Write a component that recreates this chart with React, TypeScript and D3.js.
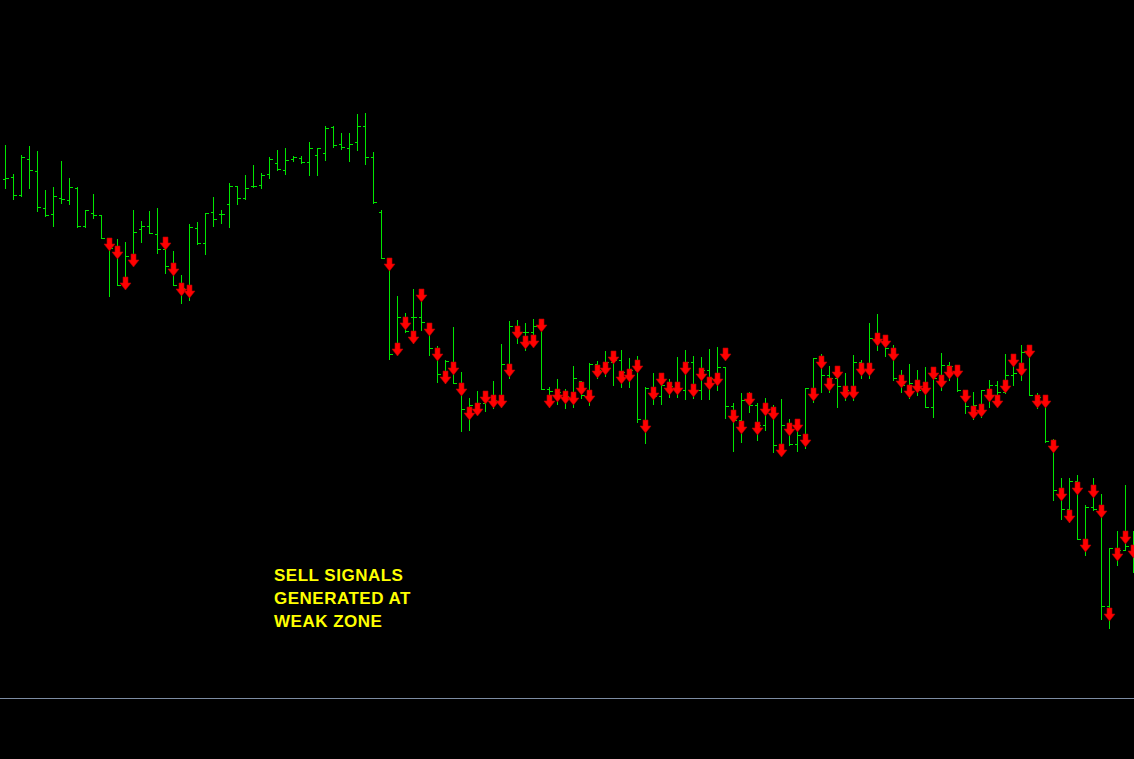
import { useEffect, useRef } from 'react';
import * as d3 from 'd3';

// OHLC bars, one per candle (oldest first)
const opens = [
  1.2821, 1.2823, 1.2805, 1.2841, 1.2829, 1.2792, 1.2786, 1.2802, 1.2800, 1.2812,
  1.2774, 1.2787, 1.2785, 1.2762, 1.2751, 1.2716, 1.2742, 1.2771, 1.2774, 1.2766,
  1.2751, 1.2734, 1.2715, 1.2714, 1.2772, 1.2757, 1.2788, 1.2786, 1.2796, 1.2814,
  1.2802, 1.2814, 1.2815, 1.2826, 1.2837, 1.2830, 1.2841, 1.2842, 1.2838, 1.2845,
  1.2847, 1.2873, 1.2856, 1.2852, 1.2858, 1.2874, 1.2843, 1.2788, 1.2741, 1.2655,
  1.2682, 1.2683, 1.2683, 1.2677, 1.2652, 1.2626, 1.2635, 1.2617, 1.2591, 1.2595,
  1.2597, 1.2602, 1.2600, 1.2636, 1.2674, 1.2668, 1.2668, 1.2675, 1.2611, 1.2609,
  1.2608, 1.2604, 1.2619, 1.2605, 1.2636, 1.2630, 1.2638, 1.2640, 1.2628, 1.2630,
  1.2580, 1.2612, 1.2604, 1.2615, 1.2614, 1.2610, 1.2638, 1.2610, 1.2630, 1.2622,
  1.2633, 1.2594, 1.2580, 1.2600, 1.2595, 1.2575, 1.2590, 1.2555, 1.2575, 1.2556,
  1.2565, 1.2612, 1.2642, 1.2625, 1.2622, 1.2614, 1.2610, 1.2638, 1.2630, 1.2662,
  1.2660, 1.2652, 1.2622, 1.2615, 1.2617, 1.2610, 1.2593, 1.2622, 1.2635, 1.2634,
  1.2610, 1.2594, 1.2595, 1.2610, 1.2615, 1.2608, 1.2625, 1.2627, 1.2648, 1.2605,
  1.2603, 1.2559, 1.2510, 1.2491, 1.2519, 1.2461, 1.2493, 1.2491, 1.2394, 1.2452,
  1.2450, 1.2454,
];
const highs = [
  1.2855, 1.2826, 1.2845, 1.2854, 1.2849, 1.2810, 1.2813, 1.2839, 1.2822, 1.2813,
  1.2790, 1.2806, 1.2785, 1.2762, 1.2761, 1.2758, 1.2790, 1.2779, 1.2789, 1.2792,
  1.2753, 1.2749, 1.2725, 1.2776, 1.2778, 1.2787, 1.2803, 1.2790, 1.2817, 1.2814,
  1.2825, 1.2835, 1.2827, 1.2843, 1.2850, 1.2852, 1.2844, 1.2844, 1.2858, 1.2852,
  1.2874, 1.2874, 1.2867, 1.2867, 1.2886, 1.2887, 1.2848, 1.2790, 1.2742, 1.2704,
  1.2687, 1.2711, 1.2710, 1.2677, 1.2654, 1.2640, 1.2673, 1.2628, 1.2602, 1.2609,
  1.2604, 1.2619, 1.2656, 1.2679, 1.2680, 1.2677, 1.2681, 1.2680, 1.2613, 1.2621,
  1.2611, 1.2634, 1.2619, 1.2637, 1.2639, 1.2649, 1.2643, 1.2650, 1.2642, 1.2644,
  1.2613, 1.2627, 1.2617, 1.2621, 1.2643, 1.2650, 1.2644, 1.2643, 1.2651, 1.2653,
  1.2633, 1.2597, 1.2607, 1.2608, 1.2597, 1.2602, 1.2595, 1.2601, 1.2581, 1.2581,
  1.2612, 1.2642, 1.2646, 1.2634, 1.2634, 1.2627, 1.2645, 1.2640, 1.2677, 1.2686,
  1.2665, 1.2655, 1.2630, 1.2636, 1.2630, 1.2633, 1.2630, 1.2647, 1.2638, 1.2635,
  1.2610, 1.2608, 1.2610, 1.2620, 1.2619, 1.2646, 1.2640, 1.2655, 1.2655, 1.2607,
  1.2605, 1.2561, 1.2522, 1.2522, 1.2525, 1.2495, 1.2522, 1.2506, 1.2452, 1.2469,
  1.2515, 1.2469,
];
const lows = [
  1.2812, 1.2801, 1.2804, 1.2812, 1.2789, 1.2784, 1.2774, 1.2797, 1.2796, 1.2773,
  1.2773, 1.2782, 1.2762, 1.2704, 1.2715, 1.2713, 1.2737, 1.2758, 1.2767, 1.2747,
  1.2727, 1.2715, 1.2697, 1.2700, 1.2756, 1.2746, 1.2774, 1.2777, 1.2773, 1.2796,
  1.2801, 1.2813, 1.2812, 1.2822, 1.2830, 1.2826, 1.2839, 1.2837, 1.2825, 1.2825,
  1.2840, 1.2853, 1.2851, 1.2839, 1.2850, 1.2836, 1.2797, 1.2742, 1.2641, 1.2647,
  1.2668, 1.2657, 1.2670, 1.2645, 1.2618, 1.2617, 1.2617, 1.2569, 1.2570, 1.2589,
  1.2589, 1.2592, 1.2593, 1.2622, 1.2657, 1.2650, 1.2655, 1.2611, 1.2593, 1.2596,
  1.2592, 1.2593, 1.2602, 1.2595, 1.2622, 1.2624, 1.2615, 1.2613, 1.2613, 1.2578,
  1.2557, 1.2596, 1.2596, 1.2603, 1.2603, 1.2601, 1.2602, 1.2601, 1.2601, 1.2610,
  1.2582, 1.2549, 1.2558, 1.2588, 1.2560, 1.2570, 1.2548, 1.2550, 1.2555, 1.2549,
  1.2552, 1.2598, 1.2608, 1.2608, 1.2593, 1.2600, 1.2600, 1.2622, 1.2622, 1.2650,
  1.2644, 1.2620, 1.2608, 1.2602, 1.2605, 1.2593, 1.2583, 1.2610, 1.2620, 1.2609,
  1.2587, 1.2581, 1.2583, 1.2593, 1.2602, 1.2607, 1.2615, 1.2620, 1.2605, 1.2592,
  1.2558, 1.2500, 1.2481, 1.2478, 1.2461, 1.2445, 1.2490, 1.2381, 1.2372, 1.2435,
  1.2450, 1.2428,
];
const closes = [
  1.2822, 1.2805, 1.2843, 1.2830, 1.2793, 1.2785, 1.2804, 1.2801, 1.2813, 1.2774,
  1.2790, 1.2785, 1.2762, 1.2752, 1.2715, 1.2744, 1.2768, 1.2774, 1.2767, 1.2751,
  1.2734, 1.2715, 1.2712, 1.2773, 1.2757, 1.2787, 1.2781, 1.2786, 1.2814, 1.2802,
  1.2812, 1.2814, 1.2825, 1.2841, 1.2831, 1.2840, 1.2843, 1.2838, 1.2852, 1.2852,
  1.2872, 1.2855, 1.2853, 1.2856, 1.2874, 1.2843, 1.2798, 1.2742, 1.2646, 1.2683,
  1.2669, 1.2683, 1.2678, 1.2652, 1.2626, 1.2639, 1.2617, 1.2591, 1.2595, 1.2597,
  1.2602, 1.2600, 1.2636, 1.2674, 1.2668, 1.2668, 1.2674, 1.2611, 1.2609, 1.2608,
  1.2604, 1.2622, 1.2605, 1.2636, 1.2630, 1.2638, 1.2640, 1.2628, 1.2630, 1.2581,
  1.2612, 1.2604, 1.2615, 1.2614, 1.2610, 1.2638, 1.2610, 1.2630, 1.2622, 1.2633,
  1.2594, 1.2580, 1.2600, 1.2595, 1.2575, 1.2590, 1.2555, 1.2575, 1.2556, 1.2565,
  1.2612, 1.2642, 1.2625, 1.2622, 1.2614, 1.2610, 1.2638, 1.2630, 1.2662, 1.2660,
  1.2652, 1.2622, 1.2615, 1.2617, 1.2610, 1.2593, 1.2622, 1.2635, 1.2634, 1.2610,
  1.2594, 1.2595, 1.2610, 1.2615, 1.2608, 1.2625, 1.2627, 1.2648, 1.2605, 1.2603,
  1.2559, 1.2510, 1.2491, 1.2519, 1.2461, 1.2493, 1.2491, 1.2394, 1.2452, 1.2450,
  1.2454, 1.2455,
];

// sell arrows: bar index + price where the arrow sits
const signalBars = [
  13, 14, 15, 16, 20, 21, 22, 23,
  48, 49, 50, 51, 52, 53, 54, 55, 56, 57, 58, 59, 60, 61, 62, 63, 64, 65, 66, 67, 68, 69,
  70, 71, 72, 73, 74, 75, 76, 77, 78, 79, 80, 81, 82, 83, 84, 85, 86, 87, 88, 89,
  90, 91, 92, 93, 94, 95, 96, 97, 98, 99, 100, 101, 102, 103, 104, 105, 106, 107, 108, 109,
  110, 111, 112, 113, 114, 115, 116, 117, 118, 119, 120, 121, 122, 123, 124, 125, 126, 127, 128, 129,
  130, 131, 132, 133, 134, 135, 136, 137, 138, 139, 140, 141,
];
const signalPrices = [
  1.2762, 1.2754, 1.2723, 1.2746, 1.2763, 1.2737, 1.2717, 1.2715,
  1.2742, 1.2657, 1.2683, 1.2669, 1.2711, 1.2677, 1.2652, 1.2629, 1.2638, 1.2617, 1.2593, 1.2597,
  1.2609, 1.2605, 1.2605, 1.2636, 1.2674, 1.2664, 1.2665, 1.2681, 1.2605, 1.2611,
  1.2609, 1.2608, 1.2618, 1.2610, 1.2635, 1.2638, 1.2649, 1.2629, 1.2631, 1.2640,
  1.2580, 1.2613, 1.2627, 1.2618, 1.2618, 1.2638, 1.2616, 1.2632, 1.2623, 1.2627,
  1.2652, 1.2590, 1.2579, 1.2607, 1.2578, 1.2597, 1.2593, 1.2556, 1.2577, 1.2581,
  1.2566, 1.2612, 1.2644, 1.2622, 1.2634, 1.2614, 1.2614, 1.2637, 1.2637, 1.2667,
  1.2665, 1.2652, 1.2625, 1.2615, 1.2620, 1.2618, 1.2633, 1.2625, 1.2634, 1.2635,
  1.2610, 1.2594, 1.2596, 1.2611, 1.2605, 1.2620, 1.2646, 1.2637, 1.2655, 1.2605,
  1.2605, 1.2560, 1.2512, 1.2490, 1.2518, 1.2461, 1.2515, 1.2495, 1.2392, 1.2452,
  1.2469, 1.2455,
];

const noteLines = ['SELL SIGNALS', 'GENERATED AT', 'WEAK ZONE'];
const levelPrice = 1.2302;

export default function App() {
  const svgRef = useRef<SVGSVGElement>(null);

  useEffect(() => {
    if (!svgRef.current) return;
    const width = 1134;
    const height = 759;

    const svg = d3.select(svgRef.current);
    svg.selectAll('*').remove();
    svg.attr('width', width).attr('height', height);

    svg.append('rect').attr('width', width).attr('height', height).attr('fill', '#000000');

    const x = d3.scaleLinear().domain([0, opens.length - 1]).range([5, 1133]);
    const y = d3.scaleLinear().domain([1.3, 1.2241]).range([0, 759]);
    const px = (i: number) => Math.round(x(i)) + 0.5;
    const py = (v: number) => Math.round(y(v)) + 0.5;

    // level line
    svg.append('line')
      .attr('x1', 0).attr('x2', width)
      .attr('y1', py(levelPrice)).attr('y2', py(levelPrice))
      .attr('stroke', '#7d8ca3')
      .attr('stroke-width', 1);

    // OHLC bars
    const bars = svg.append('g')
      .attr('stroke', '#00e600')
      .attr('stroke-width', 1)
      .attr('shape-rendering', 'crispEdges');

    const idx = d3.range(opens.length);
    bars.selectAll('path.bar')
      .data(idx)
      .enter().append('path')
      .attr('class', 'bar')
      .attr('fill', 'none')
      .attr('d', i => {
        const cx = px(i);
        const o = py(opens[i]);
        const c = py(closes[i]);
        return `M${cx},${py(highs[i]) - 0.5}V${py(lows[i]) + 0.5}` +
          `M${cx - 3},${o}H${cx}` +
          `M${cx},${c}H${cx + 3}`;
      });

    // sell arrows
    const arrow = (cx: number, top: number) =>
      `M${cx - 2},${top}H${cx + 3}V${top + 6}H${cx + 6}L${cx + 0.5},${top + 13}L${cx - 5},${top + 6}H${cx - 2}Z`;

    svg.append('g')
      .selectAll('path.sig')
      .data(signalBars)
      .enter().append('path')
      .attr('class', 'sig')
      .attr('d', (b, k) => arrow(Math.round(x(b)), Math.round(y(signalPrices[k]))))
      .attr('fill', '#ff0000')
      .attr('stroke', '#b30000')
      .attr('stroke-width', 0.6)
      .attr('stroke-linejoin', 'miter');

    // note
    svg.append('g')
      .selectAll('text')
      .data(noteLines)
      .enter().append('text')
      .attr('x', 274)
      .attr('y', (d, i) => 581 + i * 23)
      .attr('fill', '#ffff00')
      .attr('font-family', '"Liberation Sans", Arial, sans-serif')
      .attr('font-weight', 'bold')
      .attr('font-size', 17)
      .attr('letter-spacing', 0.5)
      .text(d => d);
  }, []);

  return (
    <div style={{ position: 'fixed', left: 0, top: 0, width: 1134, height: 759, background: '#000' }}>
      <svg ref={svgRef} style={{ display: 'block' }} />
    </div>
  );
}
